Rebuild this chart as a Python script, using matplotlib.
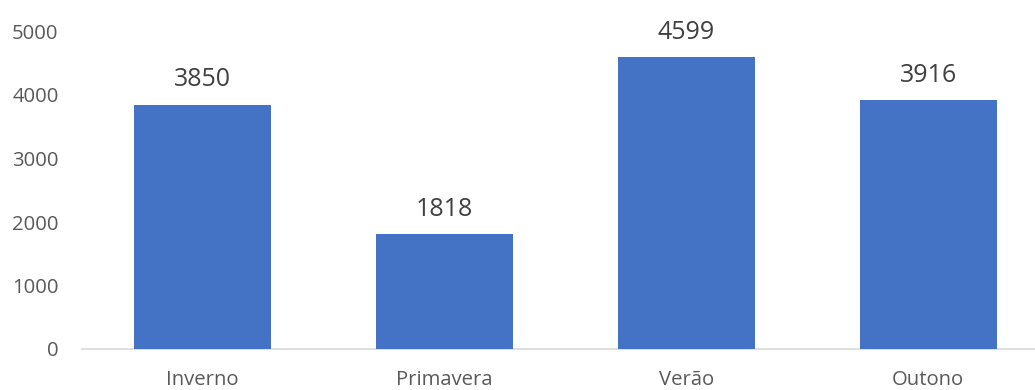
import matplotlib
matplotlib.use("Agg")
import matplotlib.pyplot as plt

categories = ["Inverno", "Primavera", "Verão", "Outono"]
values = [3850, 1818, 4599, 3916]
yticks = [0, 1000, 2000, 3000, 4000, 5000]

plt.rcParams['font.family'] = ['Open Sans', 'DejaVu Sans']

W, H = 1035, 390
fig = plt.figure(figsize=(W/100, H/100), dpi=100)
left = 81.5 / W
width = 967.7 / W
bottom = (H - 349) / H
top = (H - 31.5) / H
ax = fig.add_axes([left, bottom, width, top - bottom])

x = list(range(len(categories)))
bars = ax.bar(x, values, width=0.567, color="#4472C4", zorder=3)
ax.set_xlim(-0.5, len(categories) - 0.5)
ax.set_ylim(0, 5000)
ax.set_yticks(yticks)
ax.set_yticklabels([str(v) for v in yticks])
ax.set_xticks(x)
ax.set_xticklabels(categories)

for s in ["top", "right", "left"]:
    ax.spines[s].set_visible(False)
ax.spines["bottom"].set_color("#D9D9D9")
ax.spines["bottom"].set_linewidth(1.2)
ax.tick_params(axis="both", length=0, labelsize=14.6, labelcolor="#595959")
ax.tick_params(axis="y", pad=16.5)
ax.tick_params(axis="x", pad=15)

for xi, v in zip(x, values):
    ax.annotate(str(v), (xi, v), xytext=(0, 13), textcoords="offset points",
                ha="center", va="baseline", fontsize=18, color="#404040")

fig.savefig("out.png", dpi=100)
